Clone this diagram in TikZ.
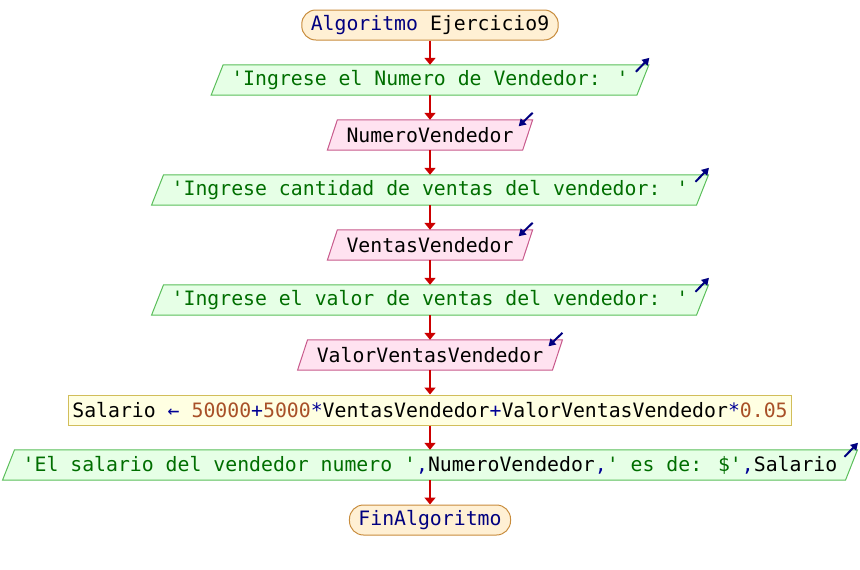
\documentclass[tikz,border=0pt]{standalone}
\usepackage{fontspec}
\newfontfamily\codefont{DejaVu Sans Mono}[Ligatures=TeXOff]
\usetikzlibrary{calc,backgrounds,arrows.meta}

\definecolor{strgreen}{RGB}{0,110,0}
\definecolor{kwblue}{RGB}{0,0,128}
\definecolor{opblue}{RGB}{0,0,150}
\definecolor{numbrown}{RGB}{168,80,40}
\definecolor{flowred}{RGB}{204,0,0}
\definecolor{termfill}{RGB}{255,240,212}
\definecolor{termline}{RGB}{200,140,60}
\definecolor{outfill}{RGB}{230,255,230}
\definecolor{outborder}{RGB}{90,190,90}
\definecolor{infill}{RGB}{255,226,240}
\definecolor{inborder}{RGB}{200,90,140}
\definecolor{asgfill}{RGB}{255,255,226}
\definecolor{asgborder}{RGB}{210,190,90}
\definecolor{iconblue}{RGB}{0,0,128}

% coloured pieces of code
\newcommand\strc[1]{\textcolor{strgreen}{#1}}
\newcommand\opc[1]{\textcolor{opblue}{#1}}
\newcommand\numc[1]{\textcolor{numbrown}{#1}}

% slanted box behind a text node: node, half slant, style
\newcommand\slantbox[3]{%
  \begin{scope}[on background layer]
    \draw[#3] ($(#1.south west)+(-#2,0)$) -- ($(#1.south east)+(-#2,0)$)
      -- ($(#1.north east)+(#2,0)$) -- ($(#1.north west)+(#2,0)$) -- cycle;
  \end{scope}}

% output marker: small arrow leaving the top right corner
\newcommand\outicon[2]{%
  \draw[ioicon] ($(#1.north east)+(#2-13,7)$) -- ($(#1.north east)+(#2+0.5,-7)$);}
% input marker: small arrow entering at the top right corner
\newcommand\inicon[2]{%
  \draw[ioicon] ($(#1.north east)+(#2,-7)$) -- ($(#1.north east)+(#2-14,6.5)$);}

\tikzset{
  base/.style={font=\codefont\fontsize{19.8}{24}\selectfont,
    minimum height=30pt, inner ysep=0pt, anchor=center},
  term/.style={base, draw=termline, fill=termfill, rounded corners=14pt,
    inner xsep=9pt, line width=1pt},
  outnode/.style={base, inner xsep=14pt},
  innode/.style={base, inner xsep=14pt},
  assign/.style={base, draw=asgborder, fill=asgfill, inner xsep=4pt, line width=1pt},
  outshape/.style={draw=outborder, fill=outfill, line width=1pt},
  inshape/.style={draw=inborder, fill=infill, line width=1pt},
  flow/.style={draw=flowred, line width=2pt, -{Triangle[width=11pt,length=7pt]}},
  ioicon/.style={draw=iconblue, line width=2pt, -{Triangle[width=8pt,length=7pt]}},
}

\begin{document}
\begin{tikzpicture}[x=1pt,y=-1pt]
  \useasboundingbox (0,0) rectangle (860,570);

  \node[term] (start) at (430,25) {\textcolor{kwblue}{Algoritmo} Ejercicio9};
  \node[outnode] (o1) at (430,80) {\strc{'Ingrese el Numero de Vendedor: '}};
  \node[innode] (i1) at (430,135) {NumeroVendedor};
  \node[outnode] (o2) at (430,190) {\strc{'Ingrese cantidad de ventas del vendedor: '}};
  \node[innode] (i2) at (430,245) {VentasVendedor};
  \node[outnode] (o3) at (430,300) {\strc{'Ingrese el valor de ventas del vendedor: '}};
  \node[innode] (i3) at (430,355) {ValorVentasVendedor};
  \node[assign] (a1) at (430,410) {Salario \opc{←} \numc{50000}\opc{+}\numc{5000}\opc{*}VentasVendedor\opc{+}ValorVentasVendedor\opc{*}\numc{0.05}};
  \node[outnode] (o4) at (430,465) {\strc{'El salario del vendedor numero '}\opc{,}NumeroVendedor\opc{,}\strc{' es de: \$'}\opc{,}Salario};
  \node[term] (stop) at (430,520) {\textcolor{kwblue}{FinAlgoritmo}};

  % slanted input / output boxes
  \slantbox{o1}{6}{outshape}
  \slantbox{o2}{6}{outshape}
  \slantbox{o3}{6}{outshape}
  \slantbox{o4}{6}{outshape}
  \slantbox{i1}{5}{inshape}
  \slantbox{i2}{5}{inshape}
  \slantbox{i3}{5}{inshape}

  % corner markers
  \outicon{o1}{6}
  \outicon{o2}{6}
  \outicon{o3}{6}
  \outicon{o4}{6}
  \inicon{i1}{5}
  \inicon{i2}{5}
  \inicon{i3}{5}

  % control flow
  \draw[flow] (start.south) -- (o1.north);
  \draw[flow] (o1.south) -- (i1.north);
  \draw[flow] (i1.south) -- (o2.north);
  \draw[flow] (o2.south) -- (i2.north);
  \draw[flow] (i2.south) -- (o3.north);
  \draw[flow] (o3.south) -- (i3.north);
  \draw[flow] (i3.south) -- (a1.north);
  \draw[flow] (a1.south) -- (o4.north);
  \draw[flow] (o4.south) -- (stop.north);
\end{tikzpicture}
\end{document}
